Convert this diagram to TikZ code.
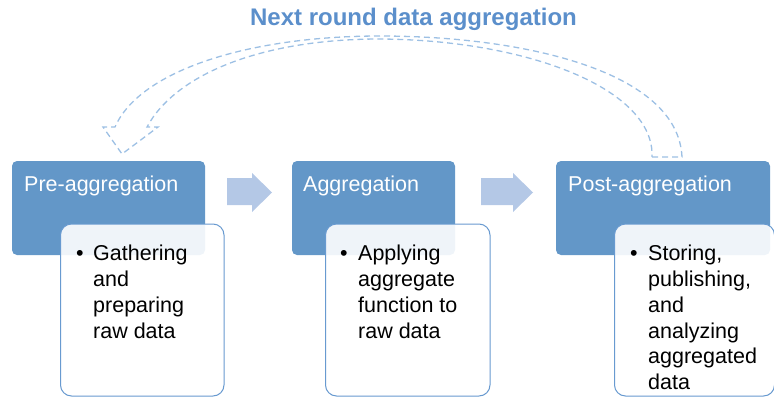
\documentclass[tikz,border=0pt]{standalone}
\usepackage{fontspec}
\setmainfont{Liberation Sans}
\definecolor{boxblue}{RGB}{99,151,200}
\definecolor{edgeblue}{RGB}{104,154,208}
\definecolor{arrowfill}{RGB}{180,200,230}
\definecolor{dashblue}{RGB}{157,192,228}
\definecolor{titleblue}{RGB}{91,143,203}
\tikzset{
  stage/.style={fill=boxblue, rounded corners=5pt},
  detail/.style={draw=edgeblue, line width=1pt, fill=white, fill opacity=0.9, rounded corners=11pt},
  stagelabel/.style={anchor=base west, inner sep=0pt, text=white, font=\fontsize{21.5}{25.8}\selectfont},
  bulletmark/.style={anchor=base west, inner sep=0pt, font=\fontsize{21.5}{25.8}\selectfont},
  bullettext/.style={anchor=north west, inner sep=0pt, align=left, font=\fontsize{21.5}{25.8}\selectfont},
  blockarrow/.style={fill=arrowfill},
  loopline/.style={draw=dashblue, line width=1.3pt, dash pattern=on 6pt off 4pt}
}
\begin{document}
\begin{tikzpicture}[x=1pt,y=-1pt]
\useasboundingbox (0,0) rectangle (774,397);
% title
\node[anchor=base, inner sep=0pt, text=titleblue, font=\fontsize{24}{28}\selectfont\bfseries] (title) at (413.5,25) {Next round data aggregation};
% stage boxes
\path[stage] (12,161) rectangle (205,255);
\path[stage] (292,161) rectangle (455,255);
\path[stage] (556,161) rectangle (770,255);
\node[stagelabel] (pre) at (24,191) {Pre-aggregation};
\node[stagelabel] (agg) at (303,191) {Aggregation};
\node[stagelabel] (post) at (568,191) {Post-aggregation};
% detail boxes
\path[detail] (60.5,224) rectangle (224,396);
\path[detail] (325.5,224) rectangle (490,396);
\path[detail] (614.5,224) rectangle (774.5,396);
\node[bulletmark] (b1) at (76,260.5) {•};
\node[bulletmark] (b2) at (340,260.5) {•};
\node[bulletmark] (b3) at (630,260.5) {•};
\node[bullettext] (t1) at (93,245) {Gathering\\and\\preparing\\raw data};
\node[bullettext] (t2) at (358,245) {Applying\\aggregate\\function to\\raw data};
\node[bullettext] (t3) at (648,245) {Storing,\\publishing,\\and\\analyzing\\aggregated\\data};
% block arrows
\fill[blockarrow] (227,178) -- (252,178) -- (252,173) -- (272,192.5) -- (252,212) -- (252,205) -- (227,205) -- cycle;
\fill[blockarrow] (481,178) -- (513,178) -- (513,173) -- (533,192.5) -- (513,212) -- (513,205) -- (481,205) -- cycle;
% curved dashed arrow
\coordinate (tailR) at (682,157);
\coordinate (tailL) at (652,157);
\coordinate (tip) at (122,154);
\draw[loopline] (tailL) -- (tailR)
  .. controls (678,70) and (520,36) .. (380,36)
  .. controls (250,36) and (140,70) .. (115,127)
  -- (103,127) -- (tip) -- (158,127) -- (147,127)
  .. controls (175,75) and (260,39) .. (380,39)
  .. controls (530,40) and (655,90) .. (tailL);
\end{tikzpicture}
\end{document}
